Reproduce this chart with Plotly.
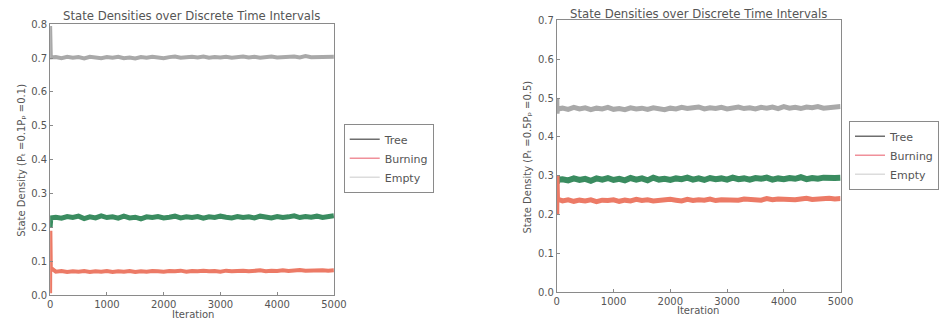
import plotly.graph_objects as go

W, H = 939, 328

# Iteration sample points (initial transient, then every 100 iterations)
ITER = [0, 4, 12] + list(range(100, 5001, 100))

# Left panel (P = 0.1, 0.1)
tree_1 = [0.795, 0.740, 0.702,
          0.703, 0.700, 0.704, 0.701, 0.703, 0.699, 0.704, 0.702, 0.700, 0.703,
          0.701, 0.704, 0.700, 0.702, 0.699, 0.703, 0.701, 0.704, 0.702, 0.700,
          0.703, 0.705, 0.701, 0.703, 0.704, 0.702, 0.705, 0.701, 0.703, 0.702,
          0.704, 0.701, 0.703, 0.705, 0.702, 0.704, 0.701, 0.703, 0.705, 0.702,
          0.704, 0.703, 0.705, 0.702, 0.706, 0.703, 0.704, 0.702, 0.705, 0.704]
empty_1 = [0.200, 0.220, 0.228,
           0.230, 0.227, 0.232, 0.229, 0.233, 0.226, 0.231, 0.228, 0.234, 0.229,
           0.231, 0.227, 0.233, 0.228, 0.230, 0.225, 0.231, 0.229, 0.232, 0.228,
           0.230, 0.233, 0.228, 0.231, 0.229, 0.232, 0.227, 0.231, 0.229, 0.233,
           0.230, 0.228, 0.232, 0.229, 0.231, 0.228, 0.233, 0.230, 0.228, 0.232,
           0.229, 0.231, 0.234, 0.229, 0.232, 0.230, 0.233, 0.229, 0.232, 0.234]
burning_1 = [0.005, 0.190, 0.080,
             0.069, 0.071, 0.068, 0.070, 0.069, 0.071, 0.068, 0.070, 0.069, 0.071,
             0.068, 0.070, 0.069, 0.071, 0.068, 0.070, 0.069, 0.071, 0.070, 0.069,
             0.071, 0.070, 0.072, 0.069, 0.071, 0.070, 0.072, 0.070, 0.071, 0.069,
             0.072, 0.070, 0.071, 0.072, 0.070, 0.071, 0.073, 0.070, 0.072, 0.071,
             0.073, 0.071, 0.072, 0.074, 0.072, 0.073, 0.071, 0.073, 0.072, 0.073]

# Right panel (P = 0.5, 0.5)
tree_2 = [0.500, 0.460, 0.472,
          0.474, 0.471, 0.476, 0.472, 0.475, 0.470, 0.474, 0.472, 0.476, 0.471,
          0.473, 0.470, 0.475, 0.472, 0.474, 0.471, 0.475, 0.473, 0.470, 0.474,
          0.472, 0.476, 0.473, 0.475, 0.477, 0.472, 0.475, 0.473, 0.476, 0.472,
          0.474, 0.477, 0.473, 0.475, 0.472, 0.476, 0.474, 0.477, 0.473, 0.478,
          0.474, 0.476, 0.473, 0.477, 0.475, 0.478, 0.474, 0.476, 0.477, 0.478]
empty_2 = [0.300, 0.280, 0.290,
           0.291, 0.288, 0.293, 0.289, 0.292, 0.287, 0.293, 0.290, 0.294, 0.289,
           0.292, 0.288, 0.294, 0.290, 0.293, 0.288, 0.295, 0.290, 0.292, 0.289,
           0.293, 0.291, 0.295, 0.290, 0.293, 0.289, 0.294, 0.291, 0.293, 0.290,
           0.295, 0.291, 0.293, 0.290, 0.294, 0.292, 0.295, 0.290, 0.293, 0.291,
           0.294, 0.292, 0.296, 0.291, 0.294, 0.292, 0.295, 0.293, 0.294, 0.295]
burning_2 = [0.200, 0.300, 0.240,
             0.235, 0.238, 0.234, 0.237, 0.235, 0.238, 0.233, 0.237, 0.236, 0.238,
             0.234, 0.237, 0.235, 0.239, 0.236, 0.238, 0.235, 0.237, 0.236, 0.239,
             0.237, 0.235, 0.239, 0.236, 0.238, 0.237, 0.240, 0.236, 0.238, 0.237,
             0.239, 0.237, 0.240, 0.238, 0.239, 0.237, 0.241, 0.238, 0.240, 0.239,
             0.241, 0.238, 0.240, 0.242, 0.239, 0.241, 0.240, 0.242, 0.240, 0.241]

LEGEND_NAMES = ["Tree", "Burning", "Empty"]
TITLE = "State Densities over Discrete Time Intervals"
YLABEL_1 = "State Density (Pₜ =0.1Pₚ =0.1)"
YLABEL_2 = "State Density (Pₜ =0.5Pₚ =0.5)"
XLABEL = "Iteration"
X_TICKS = [0, 1000, 2000, 3000, 4000, 5000]

C_TREE = "#a9a9a9"
C_EMPTY = "#3a8c60"
C_BURN = "#ec7a66"
LEG_COLORS = ["#6e6e6e", "#f0909a", "#dcdcdc"]
TXT = "#555555"
FONT = "DejaVu Sans"

fig = go.Figure()

panels = [
    (tree_1, empty_1, burning_1, "x", "y", "legend", (4, 5, 4)),
    (tree_2, empty_2, burning_2, "x2", "y2", "legend2", (5, 6, 5)),
]
for tree, empty, burn, xa, ya, leg, widths in panels:
    for vals, col, w in [(tree, C_TREE, widths[0]), (empty, C_EMPTY, widths[1]), (burn, C_BURN, widths[2])]:
        fig.add_trace(go.Scatter(x=ITER, y=vals, mode="lines", xaxis=xa, yaxis=ya,
                                 line=dict(color=col, width=w), showlegend=False,
                                 hoverinfo="skip"))
    for name, col in zip(LEGEND_NAMES, LEG_COLORS):
        fig.add_trace(go.Scatter(x=[None], y=[None], mode="lines", xaxis=xa, yaxis=ya,
                                 name=name, line=dict(color=col, width=1.5),
                                 legend=leg, showlegend=True))

def px_x(p):
    return p / W

def px_y(p):
    return 1 - p / H

axis_common = dict(showline=True, mirror=True, linecolor="#8a8a8a", linewidth=1,
                   showgrid=False, zeroline=False, ticks="inside", ticklen=3,
                   tickcolor="#8a8a8a", tickfont=dict(size=10, color=TXT, family=FONT))

fig.update_layout(
    width=W, height=H, margin=dict(l=0, r=0, t=0, b=0),
    paper_bgcolor="white", plot_bgcolor="white",
    font=dict(family=FONT, color=TXT),
    xaxis=dict(domain=[px_x(48), px_x(337)], range=[0, 5000], tickvals=X_TICKS,
               anchor="y", **axis_common),
    yaxis=dict(domain=[px_y(300), px_y(19)], range=[0, 0.8], dtick=0.1,
               tickformat=".1f", anchor="x", **axis_common),
    xaxis2=dict(domain=[px_x(564), px_x(853)], range=[0, 5000], tickvals=X_TICKS,
                anchor="y2", **axis_common),
    yaxis2=dict(domain=[px_y(297), px_y(15)], range=[0, 0.7], dtick=0.1,
                tickformat=".1f", anchor="x2", **axis_common),
    legend=dict(x=px_x(347), y=px_y(158), xanchor="left", yanchor="middle",
                bordercolor="#8a8a8a", borderwidth=1, bgcolor="white",
                font=dict(size=11, color=TXT, family=FONT), tracegroupgap=0,
                itemwidth=30),
    legend2=dict(x=px_x(862), y=px_y(155), xanchor="left", yanchor="middle",
                 bordercolor="#8a8a8a", borderwidth=1, bgcolor="white",
                 font=dict(size=11, color=TXT, family=FONT), tracegroupgap=0,
                 itemwidth=30),
)

annots = [
    dict(text=TITLE, x=px_x(192), y=px_y(10), size=11.7),
    dict(text=TITLE, x=px_x(708), y=px_y(8), size=11.7),
    dict(text=XLABEL, x=px_x(193), y=px_y(320), size=10),
    dict(text=XLABEL, x=px_x(708), y=px_y(316), size=10),
]
for a in annots:
    fig.add_annotation(text=a["text"], x=a["x"], y=a["y"], xref="paper", yref="paper",
                       xanchor="center", yanchor="middle", showarrow=False,
                       font=dict(size=a["size"], color=TXT, family=FONT))
for txt, xp, yp in [(YLABEL_1, 18, 160), (YLABEL_2, 534, 157)]:
    fig.add_annotation(text=txt, x=px_x(xp), y=px_y(yp), xref="paper", yref="paper",
                       xanchor="center", yanchor="middle", showarrow=False, textangle=-90,
                       font=dict(size=10, color=TXT, family=FONT))

fig.write_html("out.html")
